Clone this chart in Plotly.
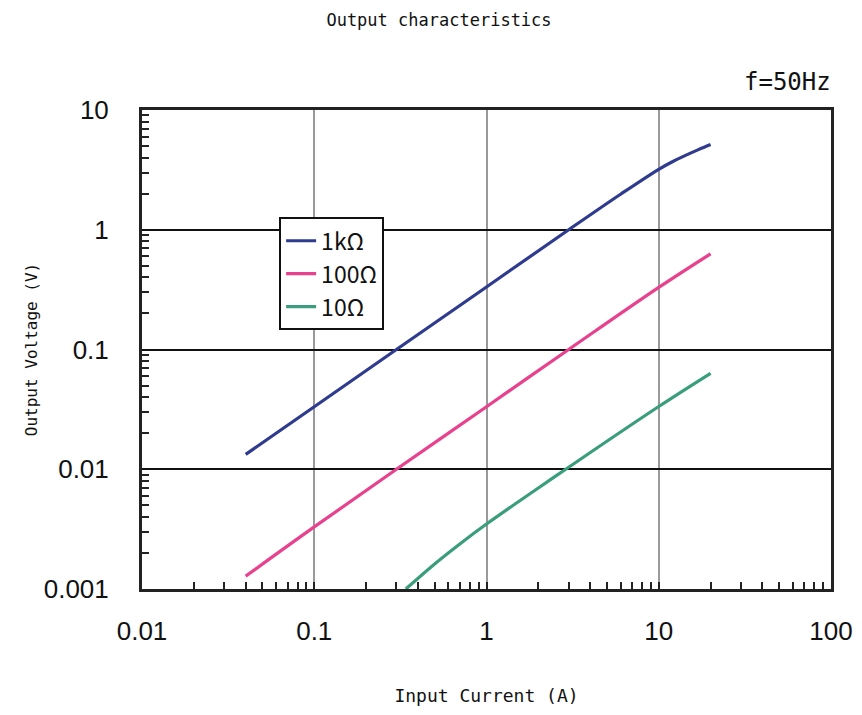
import plotly.graph_objects as go

x_1k = [0.04, 0.1, 0.3, 1, 3, 6, 10, 12, 14, 17, 20]
y_1k = [0.0133, 0.0333, 0.1, 0.333, 1.0, 1.98, 3.2, 3.7, 4.12, 4.67, 5.15]

x_100 = [0.04, 0.1, 0.3, 1, 3, 10, 20]
y_100 = [0.00128, 0.0033, 0.01, 0.0333, 0.1, 0.33, 0.63]

x_10 = [0.34, 0.5, 0.7, 1, 2, 3, 10, 20]
y_10 = [0.001, 0.00162, 0.00238, 0.00349, 0.00698, 0.0104, 0.0334, 0.0632]

names = ["1kΩ", "100Ω", "10Ω"]
colors = ["#2E3B8E", "#E8428F", "#3A9E7D"]

x_ticks = [0.01, 0.1, 1, 10, 100]
x_tick_labels = ["0.01", "0.1", "1", "10", "100"]
y_ticks = [0.001, 0.01, 0.1, 1, 10]
y_tick_labels = ["0.001", "0.01", "0.1", "1", "10"]

def minor_vals(decades, include_decade):
    vals = []
    for d in decades[:-1]:
        for k in range(1 if include_decade else 2, 10):
            vals.append(d * k)
    return vals

fig = go.Figure()
for xs, ys, n, c in zip([x_1k, x_100, x_10], [y_1k, y_100, y_10], names, colors):
    fig.add_trace(go.Scatter(x=xs, y=ys, mode="lines", name=n,
                             line=dict(color=c, width=3.2, shape="spline", smoothing=1.0)))
# invisible trace to carry the minor-tick overlay axes
fig.add_trace(go.Scatter(x=[x_ticks[0]], y=[y_ticks[0]], xaxis="x2", yaxis="y2",
                         mode="markers", marker=dict(opacity=0), showlegend=False,
                         hoverinfo="skip"))

mono = "DejaVu Sans Mono, monospace"
sans = "Liberation Sans, Arial, sans-serif"
fig.update_layout(
    width=862, height=715,
    margin=dict(l=134, r=39, t=102, b=134),
    paper_bgcolor="white", plot_bgcolor="white",
    font=dict(family=sans, color="#111"),
    title=dict(text="Output characteristics", x=0.5, xanchor="center", y=0.983, yanchor="middle",
               font=dict(family=mono, size=17, color="#111")),
    showlegend=True,
    legend=dict(x=0.199, y=0.776, xanchor="left", yanchor="top",
                bordercolor="#111", borderwidth=2, bgcolor="white",
                font=dict(family="Noto Sans CJK JP", size=23), tracegroupgap=0, itemwidth=30),
    annotations=[dict(text="f=50Hz", x=1.003, y=1.058, xref="paper", yref="paper",
                      xanchor="right", yanchor="middle", showarrow=False,
                      font=dict(family=mono, size=24, color="#111"))],
    xaxis=dict(
        type="log", range=[-2, 2],
        tickvals=x_ticks, ticktext=x_tick_labels, tickfont=dict(size=26),
        showgrid=True, gridcolor="#9a9a9a", gridwidth=2,
        showline=True, linecolor="#222", linewidth=3, mirror=True,
        ticks="", ticklabelstandoff=17, automargin=False,
        title=dict(text="Input Current (A)", font=dict(family=mono, size=18), standoff=45),
        zeroline=False,
    ),
    yaxis=dict(
        type="log", range=[-3, 1],
        tickvals=y_ticks, ticktext=y_tick_labels, tickfont=dict(size=26),
        showgrid=True, gridcolor="#111", gridwidth=2,
        showline=True, linecolor="#222", linewidth=3, mirror=True,
        ticks="", ticklabelstandoff=25, automargin=False,
        title=dict(text="Output Voltage (V)", font=dict(family=mono, size=16), standoff=3),
        zeroline=False,
    ),
    xaxis2=dict(
        type="log", range=[-2, 2], overlaying="x", anchor="y", side="bottom",
        tickvals=minor_vals(x_ticks, True), ticks="inside", ticklen=7, tickwidth=2,
        tickcolor="#222", showticklabels=False, showgrid=False, zeroline=False, showline=False,
    ),
    yaxis2=dict(
        type="log", range=[-3, 1], overlaying="y", anchor="x", side="left",
        tickvals=minor_vals(y_ticks, False), ticks="inside", ticklen=7, tickwidth=2,
        tickcolor="#222", showticklabels=False, showgrid=False, zeroline=False, showline=False,
    ),
)
fig.write_html("out.html")
